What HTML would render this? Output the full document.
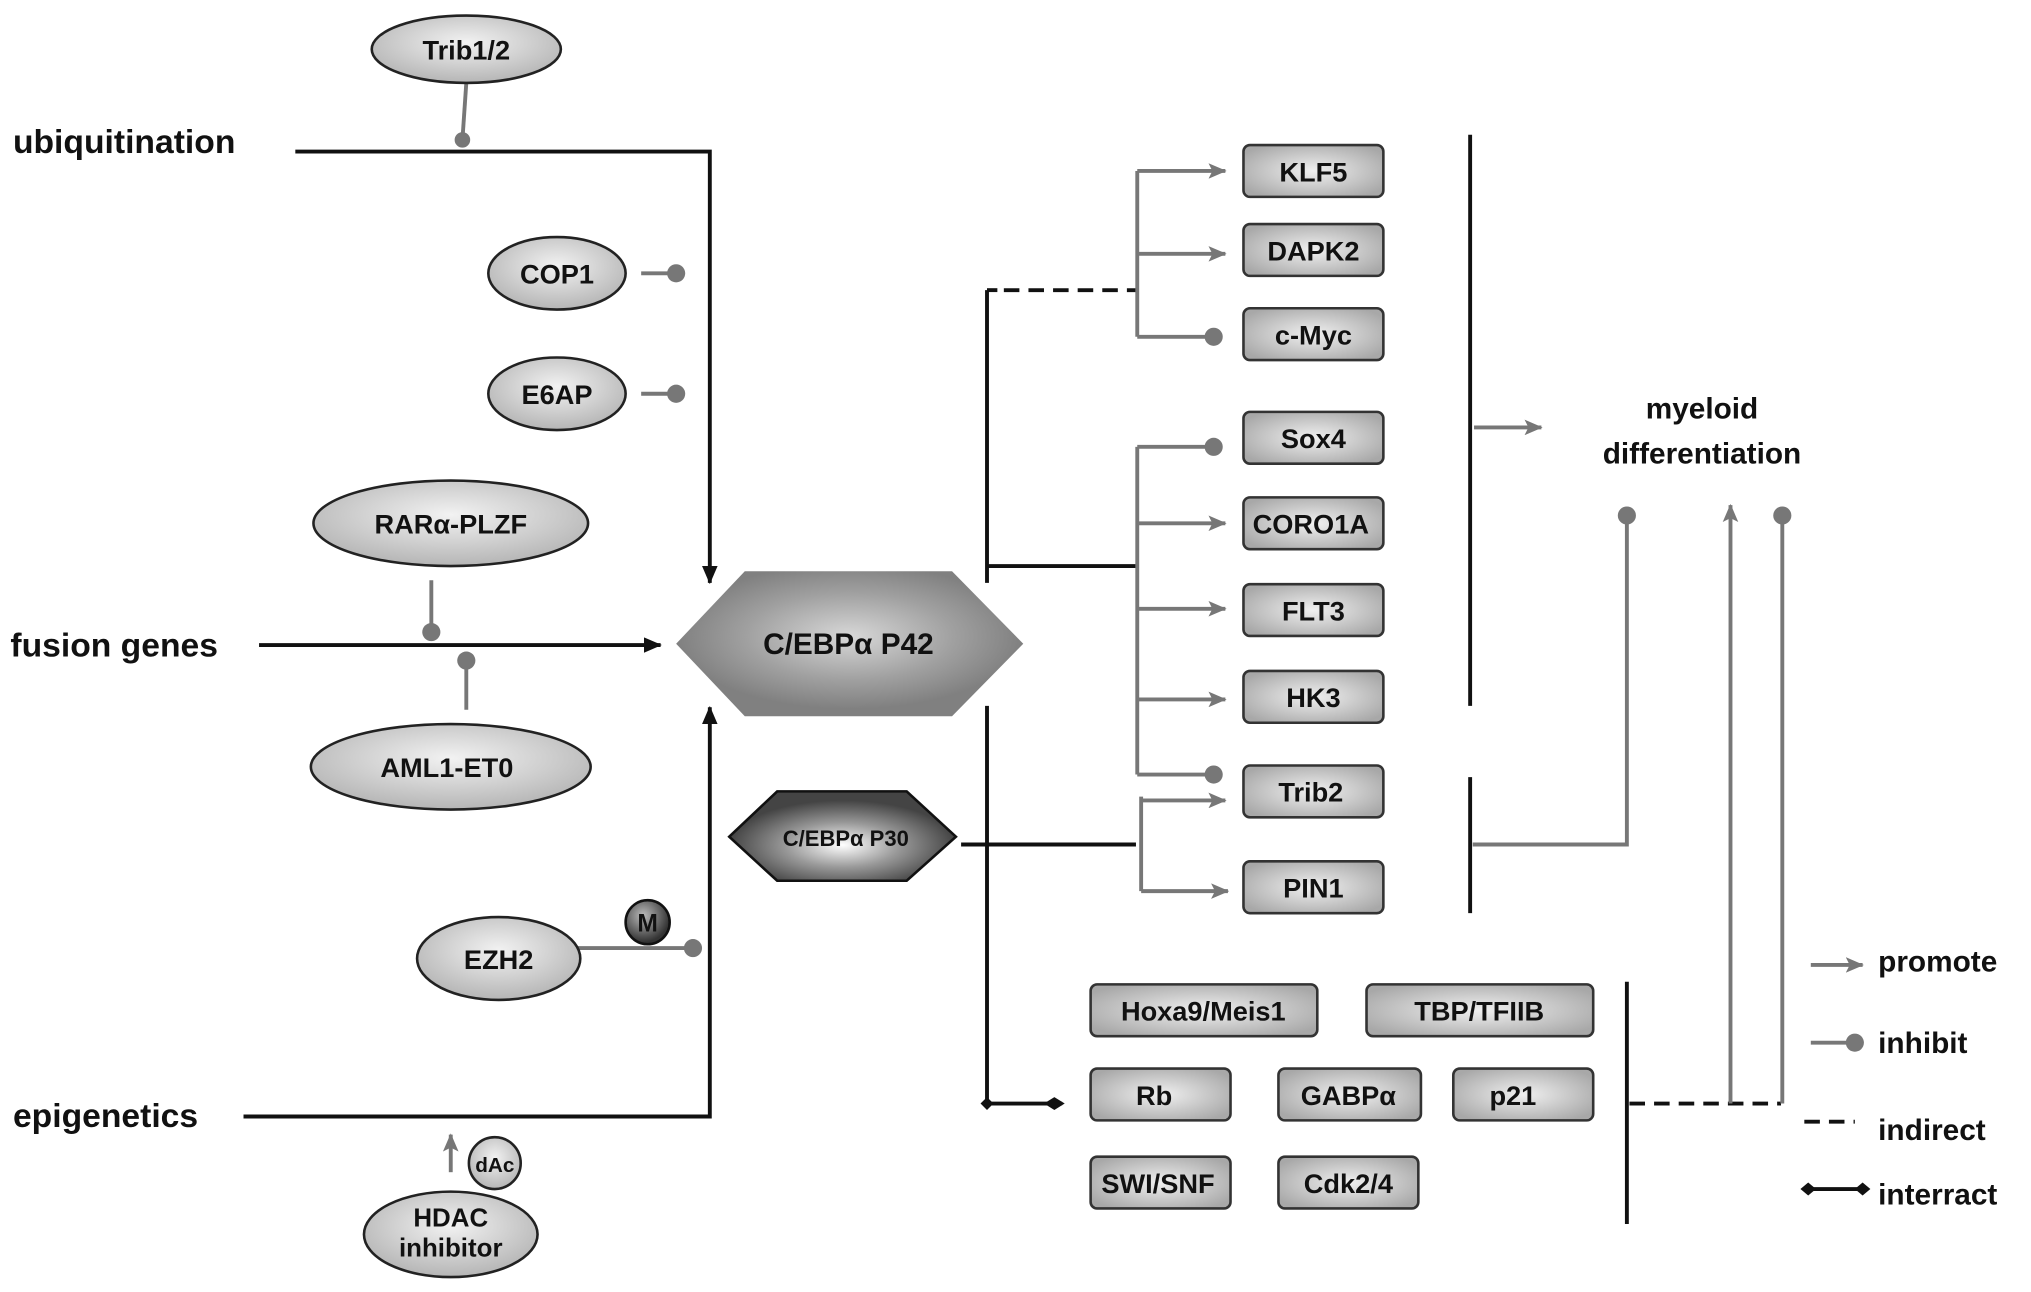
<!DOCTYPE html>
<html><head><meta charset="utf-8"><style>html,body{margin:0;padding:0;background:#fff}svg{display:block}</style></head>
<body>
<svg width="2031" height="1292" viewBox="0 0 1568 997.5" preserveAspectRatio="none" xmlns="http://www.w3.org/2000/svg" font-family="Liberation Sans, sans-serif" font-weight="bold">
<defs>
<radialGradient id="eg" cx="50%" cy="40%" r="60%"><stop offset="0" stop-color="#f2f2f2"/><stop offset="1" stop-color="#b5b5b5"/></radialGradient>
<radialGradient id="bg" cx="50%" cy="50%" r="60%"><stop offset="0" stop-color="#f0f0f0"/><stop offset="1" stop-color="#a8a8a8"/></radialGradient>
<radialGradient id="h42" cx="50%" cy="45%" r="50%"><stop offset="0" stop-color="#d8d8d8"/><stop offset="0.6" stop-color="#a0a0a0"/><stop offset="1" stop-color="#808080"/></radialGradient>
<radialGradient id="h30" cx="50%" cy="60%" r="50%"><stop offset="0" stop-color="#ffffff"/><stop offset="0.5" stop-color="#999"/><stop offset="1" stop-color="#444"/></radialGradient>
<radialGradient id="mg" cx="40%" cy="35%" r="60%"><stop offset="0" stop-color="#bbb"/><stop offset="1" stop-color="#333"/></radialGradient>
<marker id="ab" markerWidth="10" markerHeight="10" refX="9" refY="5" orient="auto" markerUnits="userSpaceOnUse"><path d="M0,0 L10,5 L0,10z" fill="#111"/></marker>
<marker id="ag" markerWidth="14" markerHeight="12" refX="13" refY="6" orient="auto" markerUnits="userSpaceOnUse"><path d="M0,0 L14,6 L0,12 L3,6z" fill="#777"/></marker>
<marker id="ab2" markerWidth="14" markerHeight="12" refX="13" refY="6" orient="auto" markerUnits="userSpaceOnUse"><path d="M0,0 L14,6 L0,12z" fill="#111"/></marker>
</defs>
<g font-size="26" fill="#111">
<text x="10" y="118">ubiquitination</text>
<text x="8" y="507">fusion genes</text>
<text x="10" y="870">epigenetics</text>
</g>
<g stroke="#111" stroke-width="3" fill="none">
<polyline points="228,117 548,117 548,450" marker-end="url(#ab2)"/>
<line x1="200" y1="498" x2="510" y2="498" marker-end="url(#ab2)"/>
<polyline points="188,862 548,862 548,546" marker-end="url(#ab2)"/>
<line x1="762" y1="224" x2="762" y2="450"/>
<line x1="762" y1="545" x2="762" y2="852"/>
<line x1="762" y1="437" x2="878" y2="437"/>
<line x1="762" y1="224" x2="770" y2="224"/>
<line x1="775" y1="224" x2="878" y2="224" stroke-dasharray="12,7"/>
<line x1="742" y1="652" x2="877" y2="652"/>
<line x1="762" y1="852" x2="820" y2="852"/>
<line x1="1135" y1="104" x2="1135" y2="545"/>
<line x1="1135" y1="600" x2="1135" y2="705"/>
<line x1="1256" y1="758" x2="1256" y2="945"/>
<line x1="1258" y1="852" x2="1375" y2="852" stroke-dasharray="12,7"/>
<line x1="1393" y1="866" x2="1432" y2="866" stroke-dasharray="12,7"/>
<line x1="1393" y1="918" x2="1438" y2="918"/>
</g>
<g fill="#111"><path d="M757,852 l5,-5 l5,5 l-5,5z"/><path d="M812,852 l8,-5 l8,5 l-8,5z" transform="translate(-6,0)"/>
<path d="M1390,918 l6,-5 l6,5 l-6,5z"/><path d="M1432,918 l6,-5 l6,5 l-6,5z"/></g>
<g stroke="#777" stroke-width="3" fill="none">
<line x1="360" y1="64" x2="357" y2="108"/>
<line x1="495" y1="211" x2="522" y2="211"/>
<line x1="495" y1="304" x2="522" y2="304"/>
<line x1="333" y1="448" x2="333" y2="488"/>
<line x1="360" y1="548" x2="360" y2="510"/>
<line x1="440" y1="732" x2="535" y2="732"/>
<line x1="348" y1="905" x2="348" y2="876" marker-end="url(#ag)"/>
<line x1="878" y1="132" x2="878" y2="260"/>
<line x1="878" y1="132" x2="946" y2="132" marker-end="url(#ag)"/>
<line x1="878" y1="196" x2="946" y2="196" marker-end="url(#ag)"/>
<line x1="878" y1="260" x2="937" y2="260"/>
<line x1="878" y1="345" x2="878" y2="598"/>
<line x1="878" y1="345" x2="937" y2="345"/>
<line x1="878" y1="404" x2="946" y2="404" marker-end="url(#ag)"/>
<line x1="878" y1="470" x2="946" y2="470" marker-end="url(#ag)"/>
<line x1="878" y1="540" x2="946" y2="540" marker-end="url(#ag)"/>
<line x1="878" y1="598" x2="937" y2="598"/>
<line x1="881" y1="615" x2="881" y2="688"/>
<line x1="881" y1="618" x2="946" y2="618" marker-end="url(#ag)"/>
<line x1="881" y1="688" x2="948" y2="688" marker-end="url(#ag)"/>
<line x1="1138" y1="330" x2="1190" y2="330" marker-end="url(#ag)"/>
<polyline points="1137,652 1256,652 1256,398"/>
<line x1="1336" y1="852" x2="1336" y2="390" marker-end="url(#ag)"/>
<line x1="1376" y1="852" x2="1376" y2="398"/>
<line x1="1398" y1="745" x2="1438" y2="745" marker-end="url(#ag)"/>
<line x1="1398" y1="805" x2="1432" y2="805"/>
</g>
<g fill="#777">
<circle cx="357" cy="108" r="6"/><circle cx="522" cy="211" r="7"/><circle cx="522" cy="304" r="7"/>
<circle cx="333" cy="488" r="7"/><circle cx="360" cy="510" r="7"/><circle cx="535" cy="732" r="7"/>
<circle cx="937" cy="260" r="7"/><circle cx="937" cy="345" r="7"/><circle cx="937" cy="598" r="7"/>
<circle cx="1256" cy="398" r="7"/><circle cx="1376" cy="398" r="7"/><circle cx="1432" cy="805" r="7"/>
</g>
<g stroke="#222" stroke-width="2" fill="url(#eg)">
<ellipse cx="360" cy="38" rx="73" ry="26"/>
<ellipse cx="430" cy="211" rx="53" ry="28"/>
<ellipse cx="430" cy="304" rx="53" ry="28"/>
<ellipse cx="348" cy="404" rx="106" ry="33"/>
<ellipse cx="348" cy="592" rx="108" ry="33"/>
<ellipse cx="385" cy="740" rx="63" ry="32"/>
<ellipse cx="348" cy="953" rx="67" ry="33"/>
<circle cx="382" cy="898" r="20"/>
</g>
<circle cx="500" cy="712" r="17" fill="url(#mg)" stroke="#111" stroke-width="2"/>
<polygon points="522,497 575,441 735,441 790,497 735,553 575,553" fill="url(#h42)"/>
<polygon points="563,646 600,611 700,611 738,646 700,680 600,680" fill="url(#h30)" stroke="#111" stroke-width="2"/>
<g stroke="#333" stroke-width="2" fill="url(#bg)">
<rect x="960" y="112" width="108" height="40" rx="5"/>
<rect x="960" y="173" width="108" height="40" rx="5"/>
<rect x="960" y="238" width="108" height="40" rx="5"/>
<rect x="960" y="318" width="108" height="40" rx="5"/>
<rect x="960" y="384" width="108" height="40" rx="5"/>
<rect x="960" y="451" width="108" height="40" rx="5"/>
<rect x="960" y="518" width="108" height="40" rx="5"/>
<rect x="960" y="591" width="108" height="40" rx="5"/>
<rect x="960" y="665" width="108" height="40" rx="5"/>
<rect x="842" y="760" width="175" height="40" rx="5"/>
<rect x="1055" y="760" width="175" height="40" rx="5"/>
<rect x="842" y="825" width="108" height="40" rx="5"/>
<rect x="987" y="825" width="110" height="40" rx="5"/>
<rect x="1122" y="825" width="108" height="40" rx="5"/>
<rect x="842" y="893" width="108" height="40" rx="5"/>
<rect x="987" y="893" width="108" height="40" rx="5"/>
</g>
<g font-size="21" fill="#111" text-anchor="middle">
<text x="360" y="46">Trib1/2</text>
<text x="430" y="219">COP1</text>
<text x="430" y="312">E6AP</text>
<text x="348" y="412">RARα-PLZF</text>
<text x="345" y="600">AML1-ET0</text>
<text x="385" y="748">EZH2</text>
<text x="348" y="947" font-size="20">HDAC</text>
<text x="348" y="970" font-size="20">inhibitor</text>
<text x="382" y="905" font-size="16">dAc</text>
<text x="500" y="719" font-size="19">M</text>
<text x="655" y="505" font-size="23">C/EBPα P42</text>
<text x="653" y="653" font-size="17">C/EBPα P30</text>
<text x="1014" y="140">KLF5</text>
<text x="1014" y="201">DAPK2</text>
<text x="1014" y="266">c-Myc</text>
<text x="1014" y="346">Sox4</text>
<text x="1012" y="412">CORO1A</text>
<text x="1014" y="479">FLT3</text>
<text x="1014" y="546">HK3</text>
<text x="1012" y="619">Trib2</text>
<text x="1014" y="693">PIN1</text>
<text x="929" y="788">Hoxa9/Meis1</text>
<text x="1142" y="788">TBP/TFIIB</text>
<text x="891" y="853">Rb</text>
<text x="1041" y="853">GABPα</text>
<text x="1168" y="853">p21</text>
<text x="894" y="921">SWI/SNF</text>
<text x="1041" y="921">Cdk2/4</text>
<text x="1314" y="323" font-size="23">myeloid</text>
<text x="1314" y="358" font-size="23">differentiation</text>
</g>
<g font-size="23" fill="#111">
<text x="1450" y="750">promote</text>
<text x="1450" y="813">inhibit</text>
<text x="1450" y="880">indirect</text>
<text x="1450" y="930">interract</text>
</g>
</svg>
</body></html>
